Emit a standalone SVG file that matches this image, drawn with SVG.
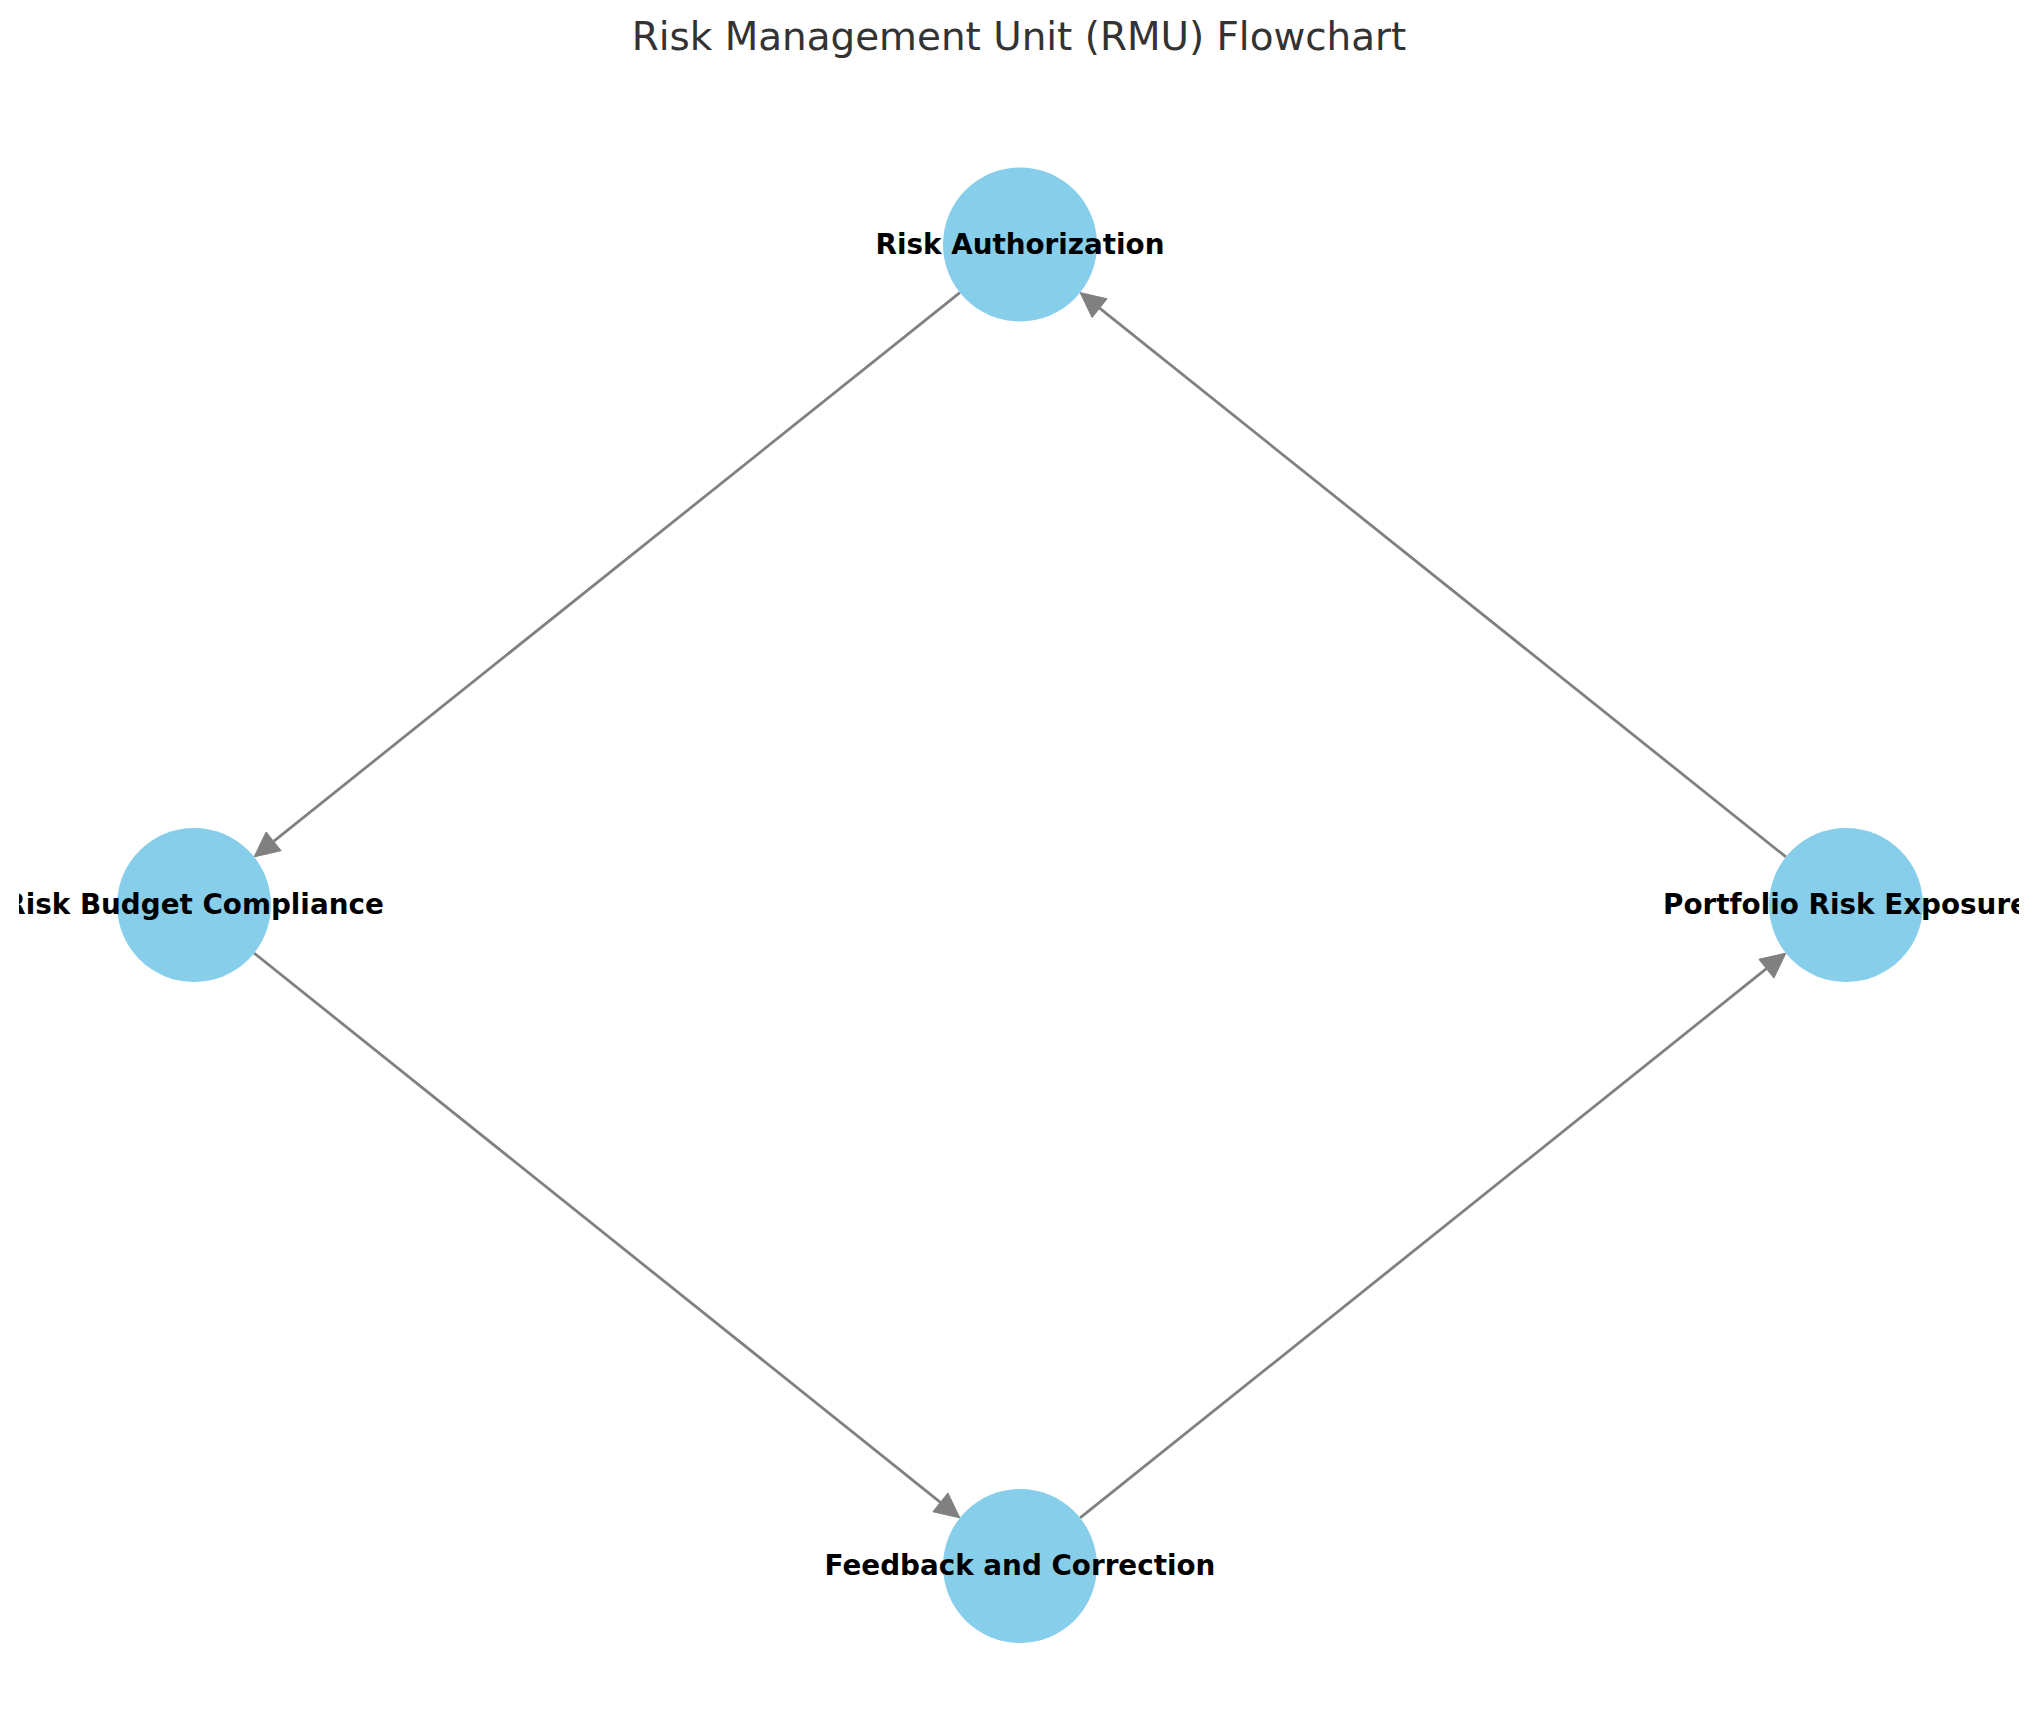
<svg xmlns="http://www.w3.org/2000/svg" width="2039" height="1725" viewBox="0 0 2039 1725">
<style>
.edge{stroke:#808080;stroke-width:2.78;fill:none}
.head{fill:#808080;stroke:#808080;stroke-width:1;stroke-linejoin:miter}
.node{fill:#87CEEB}
.label{font-family:"DejaVu Sans",sans-serif;font-weight:bold;font-size:27.8px;fill:#000;text-anchor:middle}
.title{font-family:"DejaVu Sans",sans-serif;font-size:38.9px;fill:#333333;text-anchor:middle}
</style>
<defs>
<clipPath id="axes"><rect x="19" y="0" width="2000" height="1725"/></clipPath>
</defs>
<rect width="2039" height="1725" fill="#ffffff"/>
<text class="title" x="1019" y="50">Risk Management Unit (RMU) Flowchart</text>
<g id="connectors">
<line class="edge" x1="959.9" y1="292.6" x2="273.6" y2="841.3"/>
<polygon class="head" points="254.1,856.9 281.1,850.7 266.1,831.9"/>
<line class="edge" x1="254.1" y1="953.1" x2="940.4" y2="1502.3"/>
<polygon class="head" points="959.9,1517.9 932.9,1511.7 947.9,1492.9"/>
<line class="edge" x1="1080.1" y1="1517.9" x2="1766.4" y2="968.7"/>
<polygon class="head" points="1785.9,953.1 1773.9,978.1 1758.9,959.3"/>
<line class="edge" x1="1785.9" y1="856.9" x2="1099.6" y2="308.2"/>
<polygon class="head" points="1080.1,292.6 1092.1,317.6 1107.1,298.8"/>
</g>
<g id="node-risk-authorization">
<circle class="node" cx="1020" cy="244.5" r="77"/>
<text class="label" x="1020" y="253.5" clip-path="url(#axes)">Risk Authorization</text>
</g>
<g id="node-risk-budget-compliance">
<circle class="node" cx="194" cy="905" r="77"/>
<text class="label" x="194" y="914" clip-path="url(#axes)">Risk Budget Compliance</text>
</g>
<g id="node-feedback-and-correction">
<circle class="node" cx="1020" cy="1566" r="77"/>
<text class="label" x="1020" y="1575" clip-path="url(#axes)">Feedback and Correction</text>
</g>
<g id="node-portfolio-risk-exposure">
<circle class="node" cx="1846" cy="905" r="77"/>
<text class="label" x="1846" y="914" clip-path="url(#axes)">Portfolio Risk Exposure</text>
</g>
</svg>
